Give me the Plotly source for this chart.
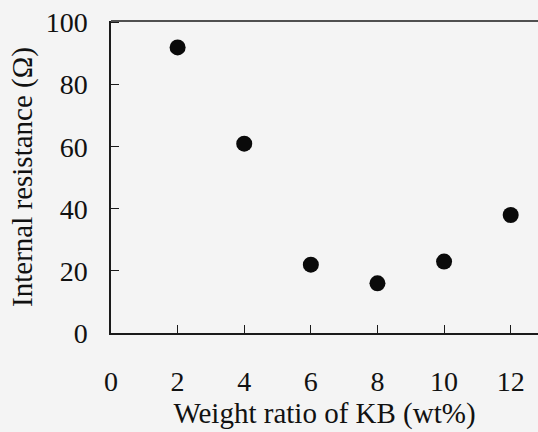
import plotly.graph_objects as go

kb_ratio = [2, 4, 6, 8, 10, 12]
resistance = [92, 61, 22, 16, 23, 38]
x_ticks = [0, 2, 4, 6, 8, 10, 12]
y_ticks = [0, 20, 40, 60, 80, 100]

FONT = "Liberation Serif, Times New Roman, serif"
LINE = "#1a1a1a"

fig = go.Figure()
fig.add_trace(go.Scatter(
    x=kb_ratio, y=resistance, mode="markers",
    marker=dict(size=16, color="#0a0a0a", line=dict(width=0)),
    showlegend=False,
))

fig.update_layout(
    width=538, height=432,
    margin=dict(l=111, r=0, t=21, b=99),
    paper_bgcolor="#f4f4f4",
    plot_bgcolor="#f4f4f4",
    font=dict(family=FONT, color="#111111"),
    xaxis=dict(
        range=[0, 12.82], tickvals=x_ticks, ticktext=[str(v) for v in x_ticks],
        showgrid=False, zeroline=False, showline=True, linecolor=LINE, linewidth=1.5,
        ticks="inside", ticklen=8, tickcolor=LINE, tickwidth=1,
        tickfont=dict(size=28, family=FONT), ticklabelstandoff=23,
        title=dict(text="Weight ratio of KB (wt%)", font=dict(size=29, family=FONT), standoff=4),
    ),
    yaxis=dict(
        range=[0, 100.5], tickvals=y_ticks, ticktext=[str(v) for v in y_ticks],
        showgrid=False, zeroline=False, showline=True, linecolor=LINE, linewidth=1.5,
        ticks="inside", ticklen=8, tickcolor=LINE, tickwidth=1,
        tickfont=dict(size=28, family=FONT), ticklabelstandoff=16,
        title=dict(text="Internal resistance (Ω)", font=dict(size=29, family=FONT), standoff=5),
    ),
    shapes=[dict(type="line", xref="paper", yref="paper", x0=0, x1=1, y0=1, y1=1,
                 line=dict(color=LINE, width=1.5))],
)

fig.write_html("out.html")
